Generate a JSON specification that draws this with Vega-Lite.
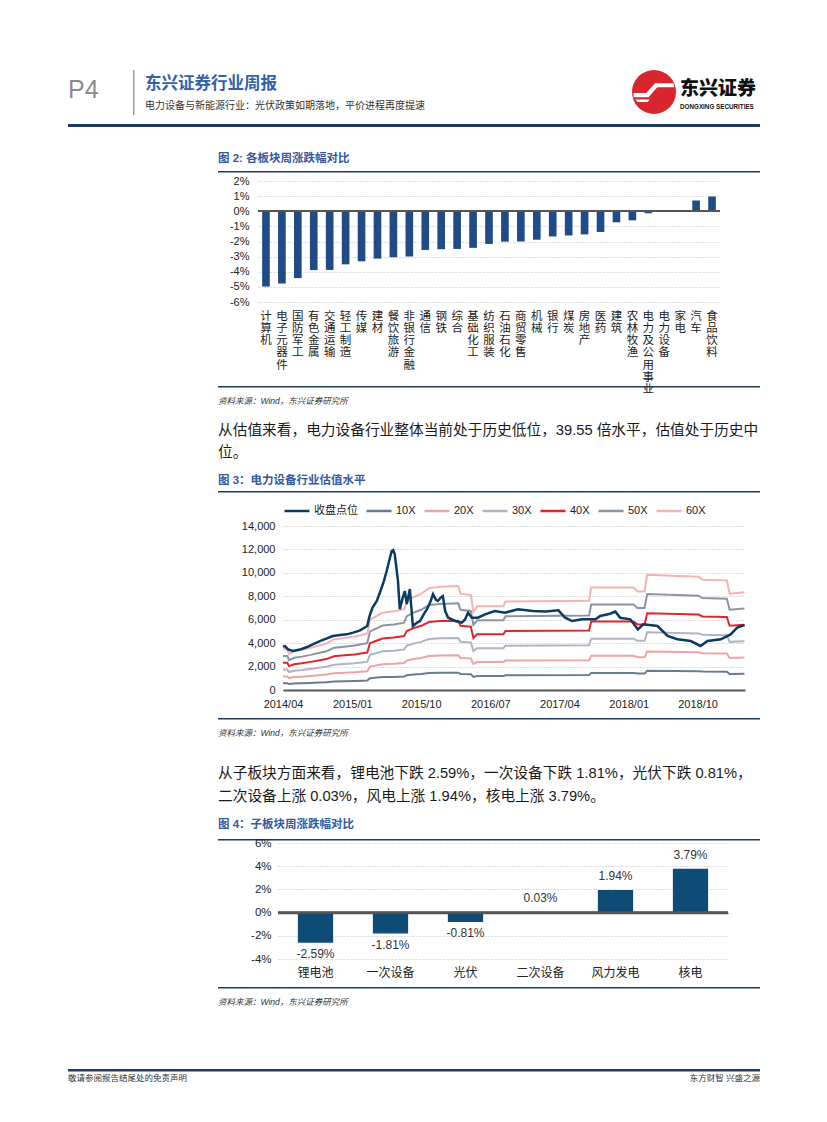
{
  "$schema": "https://vega.github.io/schema/vega-lite/v6.json",
  "background": "white",
  "padding": 0,
  "bounds": "flush",
  "spacing": 0,
  "resolve": {"scale": {"color": "independent"}, "legend": {"color": "independent"}},
  "config": {
    "view": {"stroke": null},
    "font": "Liberation Sans, 'Noto Sans CJK SC', sans-serif",
    "axis": {"labelColor": "#333333", "labelFont": "Liberation Sans, 'Noto Sans CJK SC', sans-serif", "labelOverlap": false},
    "legend": {"labelFont": "Liberation Sans, 'Noto Sans CJK SC', sans-serif", "labelColor": "#333333"}
  },
  "datasets": {
    "sectors": [
      {"c": "计算机", "v": -4.98}, {"c": "电子元器件", "v": -4.78}, {"c": "国防军工", "v": -4.42},
      {"c": "有色金属", "v": -3.89}, {"c": "交通运输", "v": -3.88}, {"c": "轻工制造", "v": -3.51},
      {"c": "传媒", "v": -3.31}, {"c": "建材", "v": -3.13}, {"c": "餐饮旅游", "v": -3.04},
      {"c": "非银行金融", "v": -2.99}, {"c": "通信", "v": -2.56}, {"c": "钢铁", "v": -2.51},
      {"c": "综合", "v": -2.49}, {"c": "基础化工", "v": -2.42}, {"c": "纺织服装", "v": -2.16},
      {"c": "石油石化", "v": -2.01}, {"c": "商贸零售", "v": -2.0}, {"c": "机械", "v": -1.88},
      {"c": "银行", "v": -1.67}, {"c": "煤炭", "v": -1.6}, {"c": "房地产", "v": -1.53},
      {"c": "医药", "v": -1.37}, {"c": "建筑", "v": -0.73}, {"c": "农林牧渔", "v": -0.6},
      {"c": "电力及公用事业", "v": -0.13}, {"c": "电力设备", "v": -0.05}, {"c": "家电", "v": 0.09},
      {"c": "汽车", "v": 0.71}, {"c": "食品饮料", "v": 0.98}
    ],
    "sub": [
      {"c": "锂电池", "v": -2.59, "l": "-2.59%"},
      {"c": "一次设备", "v": -1.81, "l": "-1.81%"},
      {"c": "光伏", "v": -0.81, "l": "-0.81%"},
      {"c": "二次设备", "v": 0.03, "l": "0.03%"},
      {"c": "风力发电", "v": 1.94, "l": "1.94%"},
      {"c": "核电", "v": 3.79, "l": "3.79%"}
    ],
    "close": [
      {"d": "2014/04/01", "收盘点位": 3700}, {"d": "2014/04/09", "收盘点位": 3750}, {"d": "2014/04/21", "收盘点位": 3470},
      {"d": "2014/05/10", "收盘点位": 3330}, {"d": "2014/06/07", "收盘点位": 3450}, {"d": "2014/07/05", "收盘点位": 3670},
      {"d": "2014/07/28", "收盘点位": 3900}, {"d": "2014/08/25", "收盘点位": 4180}, {"d": "2014/09/22", "收盘点位": 4400},
      {"d": "2014/10/16", "收盘点位": 4610}, {"d": "2014/11/13", "收盘点位": 4700}, {"d": "2014/12/10", "收盘点位": 4750},
      {"d": "2015/01/04", "收盘点位": 4900}, {"d": "2015/02/01", "收盘点位": 5090}, {"d": "2015/03/01", "收盘点位": 5460},
      {"d": "2015/03/10", "收盘点位": 6300}, {"d": "2015/03/22", "收盘点位": 7030}, {"d": "2015/04/08", "收盘点位": 7600},
      {"d": "2015/04/20", "收盘点位": 8300}, {"d": "2015/05/06", "收盘点位": 9300}, {"d": "2015/05/17", "收盘点位": 10160},
      {"d": "2015/05/29", "收盘点位": 11200}, {"d": "2015/06/06", "收盘点位": 11870}, {"d": "2015/06/12", "收盘点位": 11950},
      {"d": "2015/06/18", "收盘点位": 11600}, {"d": "2015/07/01", "收盘点位": 9300}, {"d": "2015/07/08", "收盘点位": 6900},
      {"d": "2015/07/19", "收盘点位": 7800}, {"d": "2015/07/28", "收盘点位": 8450}, {"d": "2015/08/05", "收盘点位": 7340},
      {"d": "2015/08/17", "收盘点位": 8620}, {"d": "2015/08/29", "收盘点位": 5460}, {"d": "2015/09/15", "收盘点位": 5750},
      {"d": "2015/09/26", "收盘点位": 5890}, {"d": "2015/10/12", "收盘点位": 6500}, {"d": "2015/10/24", "收盘点位": 6900},
      {"d": "2015/11/06", "收盘点位": 7500}, {"d": "2015/11/17", "收盘点位": 8190}, {"d": "2015/11/29", "收盘点位": 7700},
      {"d": "2015/12/06", "收盘点位": 7600}, {"d": "2015/12/18", "收盘点位": 7900}, {"d": "2015/12/26", "收盘点位": 8020},
      {"d": "2016/01/04", "收盘点位": 6740}, {"d": "2016/01/16", "收盘点位": 6170}, {"d": "2016/02/13", "收盘点位": 5890},
      {"d": "2016/03/10", "收盘点位": 5750}, {"d": "2016/03/22", "收盘点位": 6000}, {"d": "2016/04/04", "收盘点位": 6600},
      {"d": "2016/04/19", "收盘点位": 6170}, {"d": "2016/05/13", "收盘点位": 6170}, {"d": "2016/06/10", "收盘点位": 6460},
      {"d": "2016/07/19", "收盘点位": 6740}, {"d": "2016/08/28", "收盘点位": 6600}, {"d": "2016/10/19", "收盘点位": 6890},
      {"d": "2016/12/16", "收盘点位": 6740}, {"d": "2017/02/06", "收盘点位": 6700}, {"d": "2017/03/28", "收盘点位": 6800},
      {"d": "2017/04/24", "收盘点位": 6170}, {"d": "2017/05/21", "收盘点位": 5890}, {"d": "2017/07/01", "收盘点位": 6030},
      {"d": "2017/08/22", "收盘点位": 6030}, {"d": "2017/09/10", "收盘点位": 6320}, {"d": "2017/10/19", "收盘点位": 6510},
      {"d": "2017/11/09", "收盘点位": 6690}, {"d": "2017/11/28", "收盘点位": 6170}, {"d": "2018/01/07", "收盘点位": 6030},
      {"d": "2018/02/06", "收盘点位": 5180}, {"d": "2018/02/28", "收盘点位": 5610}, {"d": "2018/04/25", "收盘点位": 5460},
      {"d": "2018/06/04", "收盘点位": 4610}, {"d": "2018/07/13", "收盘点位": 4330}, {"d": "2018/09/04", "收盘点位": 4180},
      {"d": "2018/10/13", "收盘点位": 3760}, {"d": "2018/11/09", "收盘点位": 4180}, {"d": "2019/01/01", "收盘点位": 4330},
      {"d": "2019/02/09", "收盘点位": 4750}, {"d": "2019/03/07", "收盘点位": 5320}, {"d": "2019/04/05", "收盘点位": 5550}
    ],
    "bands": [
      {"d": "2014/04/01", "10X": 580, "20X": 1160, "30X": 1740, "40X": 2320, "50X": 2900, "60X": 3480},
      {"d": "2014/04/18", "10X": 580, "20X": 1160, "30X": 1740, "40X": 2320, "50X": 2900, "60X": 3480},
      {"d": "2014/04/25", "10X": 510, "20X": 1020, "30X": 1530, "40X": 2040, "50X": 2550, "60X": 3060},
      {"d": "2014/05/15", "10X": 550, "20X": 1100, "30X": 1650, "40X": 2200, "50X": 2750, "60X": 3300},
      {"d": "2014/06/15", "10X": 570, "20X": 1140, "30X": 1710, "40X": 2280, "50X": 2850, "60X": 3420},
      {"d": "2014/07/20", "10X": 600, "20X": 1200, "30X": 1800, "40X": 2400, "50X": 3000, "60X": 3600},
      {"d": "2014/08/20", "10X": 630, "20X": 1260, "30X": 1890, "40X": 2520, "50X": 3150, "60X": 3780},
      {"d": "2014/09/20", "10X": 660, "20X": 1320, "30X": 1980, "40X": 2640, "50X": 3300, "60X": 3960},
      {"d": "2014/10/20", "10X": 720, "20X": 1440, "30X": 2160, "40X": 2880, "50X": 3600, "60X": 4320},
      {"d": "2014/12/01", "10X": 740, "20X": 1480, "30X": 2220, "40X": 2960, "50X": 3700, "60X": 4440},
      {"d": "2015/01/10", "10X": 760, "20X": 1520, "30X": 2280, "40X": 3040, "50X": 3800, "60X": 4560},
      {"d": "2015/02/15", "10X": 790, "20X": 1580, "30X": 2370, "40X": 3160, "50X": 3950, "60X": 4740},
      {"d": "2015/03/01", "10X": 800, "20X": 1600, "30X": 2400, "40X": 3200, "50X": 4000, "60X": 4800},
      {"d": "2015/03/12", "10X": 1000, "20X": 2000, "30X": 3000, "40X": 4000, "50X": 5000, "60X": 6000},
      {"d": "2015/04/01", "10X": 1040, "20X": 2080, "30X": 3120, "40X": 4160, "50X": 5200, "60X": 6240},
      {"d": "2015/05/01", "10X": 1100, "20X": 2200, "30X": 3300, "40X": 4400, "50X": 5500, "60X": 6600},
      {"d": "2015/06/15", "10X": 1120, "20X": 2240, "30X": 3360, "40X": 4480, "50X": 5600, "60X": 6720},
      {"d": "2015/07/25", "10X": 1150, "20X": 2300, "30X": 3450, "40X": 4600, "50X": 5750, "60X": 6900},
      {"d": "2015/08/05", "10X": 1260, "20X": 2520, "30X": 3780, "40X": 5040, "50X": 6300, "60X": 7560},
      {"d": "2015/09/01", "10X": 1320, "20X": 2640, "30X": 3960, "40X": 5280, "50X": 6600, "60X": 7920},
      {"d": "2015/10/01", "10X": 1370, "20X": 2740, "30X": 4110, "40X": 5480, "50X": 6850, "60X": 8220},
      {"d": "2015/11/01", "10X": 1450, "20X": 2900, "30X": 4350, "40X": 5800, "50X": 7250, "60X": 8700},
      {"d": "2015/12/15", "10X": 1470, "20X": 2940, "30X": 4410, "40X": 5880, "50X": 7350, "60X": 8820},
      {"d": "2016/02/25", "10X": 1480, "20X": 2960, "30X": 4440, "40X": 5920, "50X": 7400, "60X": 8880},
      {"d": "2016/03/05", "10X": 1370, "20X": 2740, "30X": 4110, "40X": 5480, "50X": 6850, "60X": 8220},
      {"d": "2016/04/15", "10X": 1350, "20X": 2700, "30X": 4050, "40X": 5400, "50X": 6750, "60X": 8100},
      {"d": "2016/04/25", "10X": 1110, "20X": 2220, "30X": 3330, "40X": 4440, "50X": 5550, "60X": 6660},
      {"d": "2016/05/10", "10X": 1190, "20X": 2380, "30X": 3570, "40X": 4760, "50X": 5950, "60X": 7140},
      {"d": "2016/08/22", "10X": 1190, "20X": 2380, "30X": 3570, "40X": 4760, "50X": 5950, "60X": 7140},
      {"d": "2016/08/30", "10X": 1260, "20X": 2520, "30X": 3780, "40X": 5040, "50X": 6300, "60X": 7560},
      {"d": "2017/07/28", "10X": 1270, "20X": 2540, "30X": 3810, "40X": 5080, "50X": 6350, "60X": 7620},
      {"d": "2017/08/05", "10X": 1460, "20X": 2920, "30X": 4380, "40X": 5840, "50X": 7300, "60X": 8760},
      {"d": "2018/01/20", "10X": 1460, "20X": 2920, "30X": 4380, "40X": 5840, "50X": 7300, "60X": 8760},
      {"d": "2018/02/05", "10X": 1400, "20X": 2800, "30X": 4200, "40X": 5600, "50X": 7000, "60X": 8400},
      {"d": "2018/03/05", "10X": 1400, "20X": 2800, "30X": 4200, "40X": 5600, "50X": 7000, "60X": 8400},
      {"d": "2018/03/15", "10X": 1640, "20X": 3280, "30X": 4920, "40X": 6560, "50X": 8200, "60X": 9840},
      {"d": "2018/10/05", "10X": 1610, "20X": 3220, "30X": 4830, "40X": 6440, "50X": 8050, "60X": 9660},
      {"d": "2018/10/20", "10X": 1570, "20X": 3140, "30X": 4710, "40X": 6280, "50X": 7850, "60X": 9420},
      {"d": "2019/01/25", "10X": 1560, "20X": 3120, "30X": 4680, "40X": 6240, "50X": 7800, "60X": 9360},
      {"d": "2019/02/05", "10X": 1370, "20X": 2740, "30X": 4110, "40X": 5480, "50X": 6850, "60X": 8220},
      {"d": "2019/04/05", "10X": 1390, "20X": 2780, "30X": 4170, "40X": 5560, "50X": 6950, "60X": 8340}
    ]
  },
  "vconcat": [
    {"width": 10, "height": 70, "data": {"values": []}, "mark": "point"},
    {
      "bounds": "flush", "spacing": 0,
      "hconcat": [
        {"width": 68, "height": 1, "data": {"values": []}, "mark": "point"},
        {"width": 65, "height": 8, "data": {"values": []}, "mark": "point",
         "title": {"text": "P4", "orient": "bottom", "anchor": "start", "offset": 0, "fontSize": 25, "fontWeight": "normal", "color": "#8c8c8c", "font": "Liberation Sans"}},
        {"width": 1.5, "height": 45, "data": {"values": []}, "mark": "point", "view": {"fill": "#9a9a9a"}},
        {"width": 9.5, "height": 1, "data": {"values": []}, "mark": "point"},
        {"width": 400, "height": 6, "data": {"values": []}, "mark": "point",
         "title": {"text": "东兴证券行业周报", "subtitle": "电力设备与新能源行业：光伏政策如期落地，平价进程再度提速", "orient": "bottom", "anchor": "start", "offset": 0, "fontSize": 16.5, "fontWeight": "bold", "color": "#2f62aa", "subtitleFontSize": 10, "subtitleColor": "#333333", "subtitlePadding": 8.5}},
        {"width": 87, "height": 1, "data": {"values": []}, "mark": "point"},
        {"width": 44, "height": 44, "data": {"values": [{}]},
         "layer": [
           {"mark": {"type": "point", "filled": true, "shape": "circle", "size": 1936, "color": "#d7262e", "opacity": 1, "strokeWidth": 0}},
           {"mark": {"type": "point", "filled": true, "shape": "M-0.93,0.05 L-0.35,0.05 L0.05,-0.4 L0.88,-0.4 L0.93,-0.22 L0.15,-0.22 L-0.25,0.24 L-0.93,0.24 Z M-0.85,0.34 L-0.2,0.34 L-0.28,0.46 L-0.75,0.46 Z", "size": 1936, "color": "#ffffff", "opacity": 1, "strokeWidth": 0}}
         ]},
        {"width": 4, "height": 1, "data": {"values": []}, "mark": "point"},
        {"width": 80, "height": 10, "data": {"values": []}, "mark": "point",
         "title": {"text": "东兴证券", "subtitle": "DONGXING SECURITIES", "orient": "bottom", "anchor": "start", "offset": 0, "fontSize": 19, "fontWeight": 900, "color": "#111111", "subtitleFontSize": 6.3, "subtitleFontWeight": "bold", "subtitleColor": "#111111", "subtitlePadding": 4.5}}
      ]
    },
    {"width": 10, "height": 54, "data": {"values": []}, "mark": "point"},
    {
      "bounds": "flush", "spacing": 0,
      "hconcat": [
        {"width": 68, "height": 3, "data": {"values": []}, "mark": "point"},
        {"width": 692, "height": 3, "data": {"values": []}, "mark": "point", "view": {"fill": "#1f3b61"}}
      ]
    },
    {"width": 10, "height": 47, "data": {"values": []}, "mark": "point"},
    {
      "bounds": "flush", "spacing": 0,
      "hconcat": [
        {"width": 218, "height": 1.5, "data": {"values": []}, "mark": "point"},
        {"width": 542, "height": 1.5, "data": {"values": []}, "mark": "point", "view": {"fill": "#1f3b61"},
         "title": {"text": "图 2: 各板块周涨跌幅对比", "orient": "top", "anchor": "start", "offset": 7, "fontSize": 11.5, "fontWeight": "bold", "color": "#34599c"}}
      ]
    },
    {"width": 10, "height": 10, "data": {"values": []}, "mark": "point"},
    {
      "bounds": "flush", "spacing": 0,
      "hconcat": [
        {"width": 258, "height": 121, "data": {"values": []}, "mark": "point"},
        {
          "width": 462, "height": 121,
          "data": {"name": "sectors"},
          "layer": [
            {
              "mark": {"type": "bar", "color": "#1f4b87"},
              "encoding": {
                "x": {"field": "c", "type": "nominal", "sort": null,
                      "scale": {"paddingInner": 0.52, "paddingOuter": 0.26},
                      "axis": {"title": null, "labelAngle": 0, "domain": false, "ticks": false, "labelOverlap": false,
                               "labelExpr": "split(datum.label, '')", "labelLineHeight": 12.3, "labelFontSize": 11.5,
                               "labelPadding": 8, "labelBaseline": "top", "labelColor": "#222222", "labelLimit": 0}},
                "y": {"field": "v", "type": "quantitative", "scale": {"domain": [-6, 2]},
                      "axis": {"title": null, "values": [-6, -5, -4, -3, -2, -1, 0, 1, 2], "labelExpr": "datum.value + '%'",
                               "labelOverlap": false, "domain": false, "ticks": false, "grid": true, "gridDash": [1, 2], "gridColor": "#bdbdbd",
                               "labelPadding": 9, "labelFontSize": 11, "labelColor": "#222222"}}
              }
            },
            {"mark": {"type": "rule", "color": "#555555", "strokeWidth": 1.5},
             "encoding": {"y": {"datum": 0, "type": "quantitative",
                      "axis": {"title": null, "values": [-6, -5, -4, -3, -2, -1, 0, 1, 2], "labelExpr": "datum.value + '%'",
                               "labelOverlap": false, "domain": false, "ticks": false, "grid": true, "gridDash": [1, 2], "gridColor": "#bdbdbd",
                               "labelPadding": 9, "labelFontSize": 11, "labelColor": "#222222"}}}}
          ]
        }
      ]
    },
    {"width": 10, "height": 205, "data": {"values": []}, "mark": "point"},
    {
      "bounds": "flush", "spacing": 0,
      "hconcat": [
        {"width": 218, "height": 1.5, "data": {"values": []}, "mark": "point"},
        {"width": 542, "height": 1.5, "data": {"values": []}, "mark": "point", "view": {"fill": "#1f3b61"},
         "title": {"text": "资料来源：Wind，东兴证券研究所", "orient": "bottom", "anchor": "start", "offset": 9, "fontSize": 8.5, "fontWeight": "normal", "fontStyle": "italic", "color": "#333333"}}
      ]
    },
    {"width": 10, "height": 35.5, "data": {"values": []}, "mark": "point"},
    {
      "bounds": "flush", "spacing": 0,
      "hconcat": [
        {"width": 218, "height": 1, "data": {"values": []}, "mark": "point"},
        {"width": 542, "height": 1, "data": {"values": []}, "mark": "point",
         "title": {"text": ["从估值来看，电力设备行业整体当前处于历史低位，39.55 倍水平，估值处于历史中", "位。"], "orient": "bottom", "anchor": "start", "offset": 0, "fontSize": 14.7, "fontWeight": "normal", "color": "#1a1a1a", "lineHeight": 22}}
      ]
    },
    {"width": 10, "height": 68.5, "data": {"values": []}, "mark": "point"},
    {
      "bounds": "flush", "spacing": 0,
      "hconcat": [
        {"width": 218, "height": 1.5, "data": {"values": []}, "mark": "point"},
        {"width": 542, "height": 1.5, "data": {"values": []}, "mark": "point", "view": {"fill": "#1f3b61"},
         "title": {"text": "图 3：电力设备行业估值水平", "orient": "top", "anchor": "start", "offset": 4.5, "fontSize": 11.5, "fontWeight": "bold", "color": "#34599c"}}
      ]
    },
    {"width": 10, "height": 35, "data": {"values": []}, "mark": "point"},
    {
      "bounds": "flush", "spacing": 0,
      "resolve": {"scale": {"color": "independent"}, "legend": {"color": "independent"}},
      "hconcat": [
        {"width": 283, "height": 164, "data": {"values": []}, "mark": "point"},
        {
          "width": 462, "height": 164,
          "layer": [
            {
              "data": {"name": "bands"},
              "transform": [{"fold": ["10X", "20X", "30X", "40X", "50X", "60X"], "as": ["s", "v"]}],
              "mark": {"type": "line", "strokeWidth": 2},
              "encoding": {
                "x": {"field": "d", "type": "temporal",
                      "scale": {"domain": [{"year": 2014, "month": 4, "date": 1}, {"year": 2019, "month": 4, "date": 7}]},
                      "axis": {"title": null, "values": [
                        {"year": 2014, "month": 4, "date": 1}, {"year": 2015, "month": 1, "date": 1},
                        {"year": 2015, "month": 10, "date": 1}, {"year": 2016, "month": 7, "date": 1},
                        {"year": 2017, "month": 4, "date": 1}, {"year": 2018, "month": 1, "date": 1},
                        {"year": 2018, "month": 10, "date": 1}],
                        "format": "%Y/%m", "labelFlush": false, "labelOverlap": false, "domain": true, "domainColor": "#555555",
                        "domainWidth": 2, "ticks": false, "grid": false, "labelPadding": 8, "labelFontSize": 11, "labelColor": "#222222"}},
                "y": {"field": "v", "type": "quantitative", "scale": {"domain": [0, 14000]},
                      "axis": {"title": null, "values": [0, 2000, 4000, 6000, 8000, 10000, 12000, 14000], "format": ",d",
                               "labelOverlap": false, "domain": false, "ticks": false, "grid": true, "gridDash": [1, 2], "gridColor": "#bdbdbd",
                               "labelPadding": 8, "labelFontSize": 11, "labelColor": "#222222"}},
                "color": {"field": "s", "type": "nominal",
                          "scale": {"domain": ["收盘点位", "10X", "20X", "30X", "40X", "50X", "60X"],
                                    "range": ["#0b3b60", "#6a7b91", "#eea4a4", "#adb6c2", "#e2252c", "#8b95a2", "#f4b3b3"]},
                          "legend": {"title": null, "orient": "top", "direction": "horizontal", "symbolType": "stroke",
                                     "symbolSize": 625, "symbolStrokeWidth": 2.5, "labelFontSize": 11, "labelOffset": 3,
                                     "columnPadding": 3, "offset": 10, "labelColor": "#222222"}}
              }
            },
            {
              "data": {"name": "close"},
              "transform": [{"fold": ["收盘点位"], "as": ["s", "v"]}],
              "mark": {"type": "line", "strokeWidth": 2.5},
              "encoding": {
                "x": {"field": "d", "type": "temporal",
                      "axis": {"title": null, "values": [
                        {"year": 2014, "month": 4, "date": 1}, {"year": 2015, "month": 1, "date": 1},
                        {"year": 2015, "month": 10, "date": 1}, {"year": 2016, "month": 7, "date": 1},
                        {"year": 2017, "month": 4, "date": 1}, {"year": 2018, "month": 1, "date": 1},
                        {"year": 2018, "month": 10, "date": 1}],
                        "format": "%Y/%m", "labelFlush": false, "labelOverlap": false, "domain": true, "domainColor": "#555555",
                        "domainWidth": 2, "ticks": false, "grid": false, "labelPadding": 8, "labelFontSize": 11, "labelColor": "#222222"}},
                "y": {"field": "v", "type": "quantitative",
                      "axis": {"title": null, "values": [0, 2000, 4000, 6000, 8000, 10000, 12000, 14000], "format": ",d",
                               "labelOverlap": false, "domain": false, "ticks": false, "grid": true, "gridDash": [1, 2], "gridColor": "#bdbdbd",
                               "labelPadding": 8, "labelFontSize": 11, "labelColor": "#222222"}},
                "color": {"field": "s", "type": "nominal"}
              }
            }
          ]
        }
      ]
    },
    {"width": 10, "height": 192, "data": {"values": []}, "mark": "point"},
    {
      "bounds": "flush", "spacing": 0,
      "hconcat": [
        {"width": 218, "height": 1.5, "data": {"values": []}, "mark": "point"},
        {"width": 542, "height": 1.5, "data": {"values": []}, "mark": "point", "view": {"fill": "#1f3b61"},
         "title": {"text": "资料来源：Wind，东兴证券研究所", "orient": "bottom", "anchor": "start", "offset": 9, "fontSize": 8.5, "fontWeight": "normal", "fontStyle": "italic", "color": "#333333"}}
      ]
    },
    {"width": 10, "height": 46.5, "data": {"values": []}, "mark": "point"},
    {
      "bounds": "flush", "spacing": 0,
      "hconcat": [
        {"width": 218, "height": 1, "data": {"values": []}, "mark": "point"},
        {"width": 542, "height": 1, "data": {"values": []}, "mark": "point",
         "title": {"text": ["从子板块方面来看，锂电池下跌 2.59%，一次设备下跌 1.81%，光伏下跌 0.81%，", "二次设备上涨 0.03%，风电上涨 1.94%，核电上涨 3.79%。"], "orient": "bottom", "anchor": "start", "offset": 0, "fontSize": 14.7, "fontWeight": "normal", "color": "#1a1a1a", "lineHeight": 23}}
      ]
    },
    {"width": 10, "height": 73.5, "data": {"values": []}, "mark": "point"},
    {
      "bounds": "flush", "spacing": 0,
      "hconcat": [
        {"width": 218, "height": 1.5, "data": {"values": []}, "mark": "point"},
        {"width": 542, "height": 1.5, "data": {"values": []}, "mark": "point", "view": {"fill": "#1f3b61"},
         "title": {"text": "图 4：子板块周涨跌幅对比", "orient": "top", "anchor": "start", "offset": 9, "fontSize": 11.5, "fontWeight": "bold", "color": "#34599c"}}
      ]
    },
    {"width": 10, "height": 4, "data": {"values": []}, "mark": "point"},
    {
      "bounds": "flush", "spacing": 0,
      "hconcat": [
        {"width": 278, "height": 116, "data": {"values": []}, "mark": "point"},
        {
          "width": 450, "height": 116,
          "data": {"name": "sub"},
          "layer": [
            {
              "mark": {"type": "bar", "color": "#0e4c76"},
              "encoding": {
                "x": {"field": "c", "type": "nominal",
                      "scale": {"domain": ["锂电池", "一次设备", "光伏", "二次设备", "风力发电", "核电"], "paddingInner": 0.53, "paddingOuter": 0.265},
                      "axis": {"title": null, "labelAngle": 0, "domain": false, "ticks": false, "labelPadding": 8,
                               "labelFontSize": 12, "labelColor": "#222222", "labelOverlap": false}},
                "y": {"field": "v", "type": "quantitative", "scale": {"domain": [-4, 6]},
                      "axis": {"title": null, "values": [-4, -2, 0, 2, 4, 6], "labelExpr": "datum.value + '%'",
                               "labelOverlap": false, "domain": false, "ticks": false, "grid": true,
                               "gridDash": {"condition": {"test": "datum.value === 0", "value": []}, "value": [1, 2]},
                               "gridColor": {"condition": {"test": "datum.value === 0", "value": "#555555"}, "value": "#bdbdbd"},
                               "gridWidth": {"condition": {"test": "datum.value === 0", "value": 1.5}, "value": 1},
                               "labelPadding": 7, "labelFontSize": 11.5, "labelColor": "#222222"}}
              }
            },
            {"mark": {"type": "rule", "color": "#555555", "strokeWidth": 1.5},
             "encoding": {"y": {"datum": 0, "type": "quantitative",
                      "axis": {"title": null, "values": [-4, -2, 0, 2, 4, 6], "labelExpr": "datum.value + '%'",
                               "labelOverlap": false, "domain": false, "ticks": false, "grid": true,
                               "gridDash": {"condition": {"test": "datum.value === 0", "value": []}, "value": [1, 2]},
                               "gridColor": {"condition": {"test": "datum.value === 0", "value": "#555555"}, "value": "#bdbdbd"},
                               "gridWidth": {"condition": {"test": "datum.value === 0", "value": 1.5}, "value": 1},
                               "labelPadding": 7, "labelFontSize": 11.5, "labelColor": "#222222"}}}},
            {
              "transform": [{"filter": "datum.v < 0"}],
              "mark": {"type": "text", "baseline": "top", "dy": 6, "fontSize": 12, "color": "#333333"},
              "encoding": {
                "x": {"field": "c", "type": "nominal",
                      "axis": {"title": null, "labelAngle": 0, "domain": false, "ticks": false, "labelPadding": 8,
                               "labelFontSize": 12, "labelColor": "#222222", "labelOverlap": false}},
                "y": {"field": "v", "type": "quantitative",
                      "axis": {"title": null, "values": [-4, -2, 0, 2, 4, 6], "labelExpr": "datum.value + '%'",
                               "labelOverlap": false, "domain": false, "ticks": false, "grid": true,
                               "gridDash": {"condition": {"test": "datum.value === 0", "value": []}, "value": [1, 2]},
                               "gridColor": {"condition": {"test": "datum.value === 0", "value": "#555555"}, "value": "#bdbdbd"},
                               "gridWidth": {"condition": {"test": "datum.value === 0", "value": 1.5}, "value": 1},
                               "labelPadding": 7, "labelFontSize": 11.5, "labelColor": "#222222"}},
                "text": {"field": "l"}
              }
            },
            {
              "transform": [{"filter": "datum.v >= 0"}],
              "mark": {"type": "text", "baseline": "bottom", "dy": -7, "fontSize": 12, "color": "#333333"},
              "encoding": {
                "x": {"field": "c", "type": "nominal",
                      "axis": {"title": null, "labelAngle": 0, "domain": false, "ticks": false, "labelPadding": 8,
                               "labelFontSize": 12, "labelColor": "#222222", "labelOverlap": false}},
                "y": {"field": "v", "type": "quantitative",
                      "axis": {"title": null, "values": [-4, -2, 0, 2, 4, 6], "labelExpr": "datum.value + '%'",
                               "labelOverlap": false, "domain": false, "ticks": false, "grid": true,
                               "gridDash": {"condition": {"test": "datum.value === 0", "value": []}, "value": [1, 2]},
                               "gridColor": {"condition": {"test": "datum.value === 0", "value": "#555555"}, "value": "#bdbdbd"},
                               "gridWidth": {"condition": {"test": "datum.value === 0", "value": 1.5}, "value": 1},
                               "labelPadding": 7, "labelFontSize": 11.5, "labelColor": "#222222"}},
                "text": {"field": "l"}
              }
            }
          ]
        }
      ]
    },
    {"width": 10, "height": 144, "data": {"values": []}, "mark": "point"},
    {
      "bounds": "flush", "spacing": 0,
      "hconcat": [
        {"width": 218, "height": 1.5, "data": {"values": []}, "mark": "point"},
        {"width": 542, "height": 1.5, "data": {"values": []}, "mark": "point", "view": {"fill": "#1f3b61"},
         "title": {"text": "资料来源：Wind，东兴证券研究所", "orient": "bottom", "anchor": "start", "offset": 9, "fontSize": 8.5, "fontWeight": "normal", "fontStyle": "italic", "color": "#333333"}}
      ]
    },
    {"width": 10, "height": 82, "data": {"values": []}, "mark": "point"},
    {
      "bounds": "flush", "spacing": 0,
      "hconcat": [
        {"width": 68, "height": 2.5, "data": {"values": []}, "mark": "point"},
        {"width": 346, "height": 2.5, "data": {"values": []}, "mark": "point", "view": {"fill": "#1f3b61"},
         "title": {"text": "敬请参阅报告结尾处的免责声明", "orient": "bottom", "anchor": "start", "offset": 2, "fontSize": 8.5, "fontWeight": "normal", "color": "#333333"}},
        {"width": 346, "height": 2.5, "data": {"values": []}, "mark": "point", "view": {"fill": "#1f3b61"},
         "title": {"text": "东方财智 兴盛之源", "orient": "bottom", "anchor": "end", "offset": 2, "fontSize": 8.5, "fontWeight": "normal", "color": "#333333"}}
      ]
    }
  ]
}
